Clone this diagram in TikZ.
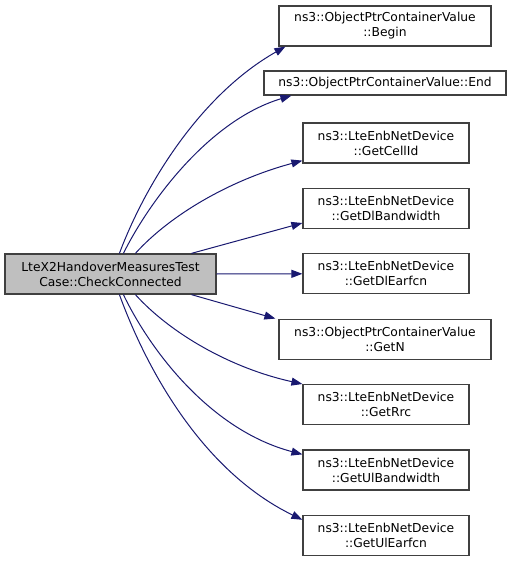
\documentclass[tikz,border=0pt]{standalone}
\usepackage{fontspec}
\setmainfont{DejaVu Sans}
\usetikzlibrary{arrows.meta}
\definecolor{edgeblue}{HTML}{191970}
\definecolor{boxborder}{HTML}{404040}
\definecolor{srcfill}{HTML}{BFBFBF}
\tikzset{
  fn/.style={draw=boxborder, line width=1.2bp, fill=white, inner sep=0pt, align=center,
    font=\fontsize{12.3bp}{15bp}\selectfont, minimum height=40bp},
  srcbox/.style={fn, fill=srcfill},
  call/.style={draw=edgeblue, line width=1bp, -{Triangle[length=11bp,width=8bp]}}
}
\begin{document}
\begin{tikzpicture}[x=1bp,y=-1bp]
\useasboundingbox (0,0) rectangle (513,561);
\node[srcbox, minimum width=211bp] (src) at (110.5,274) {LteX2HandoverMeasuresTest\\Case::CheckConnected};
\node[fn, minimum width=212bp] (begin) at (385,26) {ns3::ObjectPtrContainerValue\\::Begin};
\node[fn, minimum width=242bp, minimum height=24bp] (endn) at (385,83) {ns3::ObjectPtrContainerValue::End};
\node[fn, minimum width=166bp] (cell) at (386,143) {ns3::LteEnbNetDevice\\::GetCellId};
\node[fn, minimum width=166bp] (dlbw) at (386,208.4) {ns3::LteEnbNetDevice\\::GetDlBandwidth};
\node[fn, minimum width=166bp] (dlea) at (386,273.8) {ns3::LteEnbNetDevice\\::GetDlEarfcn};
\node[fn, minimum width=212bp] (getn) at (385,339.2) {ns3::ObjectPtrContainerValue\\::GetN};
\node[fn, minimum width=166bp] (rrc) at (386,404.6) {ns3::LteEnbNetDevice\\::GetRrc};
\node[fn, minimum width=166bp] (ulbw) at (386,470) {ns3::LteEnbNetDevice\\::GetUlBandwidth};
\node[fn, minimum width=166bp] (ulea) at (386,535.4) {ns3::LteEnbNetDevice\\::GetUlEarfcn};

\draw[call] ([xshift=115bp]src.north west) .. controls (145,185) and (200,95) .. ([xshift=7bp]begin.south west);
\draw[call] ([xshift=119bp]src.north west) .. controls (150,200) and (210,120) .. ([xshift=28bp]endn.south west);
\draw[call] ([xshift=131bp]src.north west) .. controls (170,215) and (230,180) .. ([yshift=3bp]cell.south west);
\draw[call] ([xshift=187bp]src.north west) -- ([yshift=6bp]dlbw.south west);
\draw[call] (src.east) -- (dlea.west);
\draw[call] ([xshift=187bp]src.south west) -- ([xshift=-3bp]getn.north west);
\draw[call] ([xshift=131bp]src.south west) .. controls (170,333) and (230,368) .. (rrc.north west);
\draw[call] ([xshift=119bp]src.south west) .. controls (150,350) and (210,430) .. ([yshift=-5bp]ulbw.north west);
\draw[call] ([xshift=115bp]src.south west) .. controls (145,365) and (200,470) .. ([yshift=-5bp]ulea.north west);
\end{tikzpicture}
\end{document}
